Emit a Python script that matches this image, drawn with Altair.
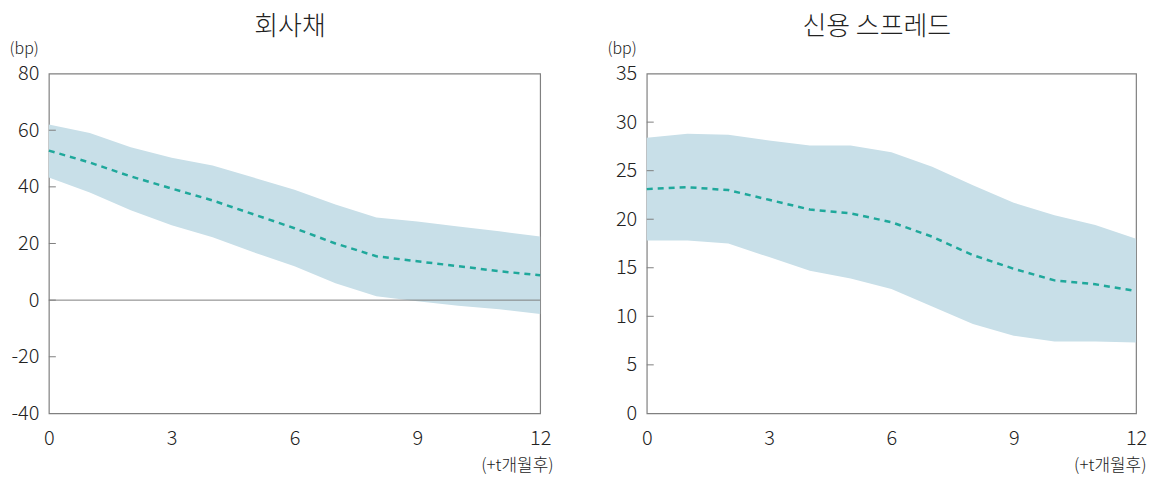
import altair as alt
import pandas as pd

months = list(range(13))

corp_mean = [52.8, 48.6, 43.7, 39.4, 35.2, 30.3, 25.4, 20.0, 15.5, 13.7, 12.0, 10.2, 8.8]
corp_upper = [62.0, 59.0, 54.0, 50.3, 47.5, 43.3, 39.0, 33.8, 29.2, 27.8, 26.0, 24.3, 22.5]
corp_lower = [43.3, 38.0, 31.7, 26.4, 22.2, 16.9, 12.0, 6.0, 1.4, -0.4, -2.0, -3.2, -4.9]

spr_mean = [23.1, 23.3, 23.0, 22.0, 21.0, 20.6, 19.7, 18.2, 16.3, 14.9, 13.7, 13.3, 12.6]
spr_upper = [28.4, 28.8, 28.7, 28.1, 27.6, 27.6, 26.9, 25.4, 23.5, 21.7, 20.4, 19.4, 18.0]
spr_lower = [17.8, 17.8, 17.5, 16.1, 14.7, 13.9, 12.8, 11.0, 9.2, 8.0, 7.4, 7.4, 7.3]

corp_ticks = [-40, -20, 0, 20, 40, 60, 80]
spr_ticks = [0, 5, 10, 15, 20, 25, 30, 35]
x_ticks = [0, 3, 6, 9, 12]

FONT = "Noto Sans CJK KR"
LINE = "#1fa89b"
BAND = "#c8dfe8"
GRID = "#808080"

H = 341


def panel(title, mean, upper, lower, ydom, yticks, zero_line, W, xt_dx, t_dx):
    df = pd.DataFrame({"m": months, "mean": mean, "up": upper, "lo": lower})
    xaxis = alt.Axis(values=x_ticks, title="(+t개월후)", titleAngle=0,
                     titleAlign="right", titleBaseline="bottom",
                     titleX=W + xt_dx, titleY=61,
                     titleFontSize=17, titleFontWeight=300,
                     labelFontSize=20, labelFontWeight=300, labelPadding=15,
                     labelFlush=False,
                     ticks=False, domain=False, grid=False)
    yaxis = alt.Axis(values=yticks, title="(bp)", titleAngle=0,
                     titleAlign="left", titleBaseline="bottom",
                     titleX=-40, titleY=-17,
                     titleFontSize=16, titleFontWeight=300,
                     labelFontSize=20, labelFontWeight=300, labelPadding=10,
                     labelExpr="'' + datum.value",
                     ticks=False, domain=False, grid=False)
    yscale = alt.Scale(domain=ydom, nice=False)
    xs = alt.X("m:Q", scale=alt.Scale(domain=[0, 12], nice=False), axis=xaxis)
    base = alt.Chart(df)
    band = base.mark_area(color=BAND, opacity=1).encode(
        x=xs, y=alt.Y("lo:Q", scale=yscale, axis=yaxis), y2="up:Q")
    line = base.mark_line(color=LINE, strokeWidth=2.5, strokeDash=[6, 5]).encode(
        x=xs, y=alt.Y("mean:Q", scale=yscale, axis=yaxis))
    tdf = pd.DataFrame({"t": yticks[1:-1]})
    ticks = alt.Chart(tdf).mark_rule(color=GRID, strokeWidth=1).encode(
        y=alt.Y("t:Q", scale=yscale, axis=yaxis),
        x=alt.value(0), x2=alt.value(7))
    layers = [band, line, ticks]
    if zero_line:
        zdf = pd.DataFrame({"z": [0]})
        layers.append(alt.Chart(zdf).mark_rule(color=GRID, strokeWidth=1).encode(
            y=alt.Y("z:Q", scale=yscale, axis=yaxis)))
    return alt.layer(*layers).properties(
        width=W, height=H,
        title=alt.TitleParams(title, fontSize=26, font=FONT, fontWeight=300,
                              color="#222", offset=1, frame="bounds",
                              anchor="middle", dx=t_dx))


left = panel("회사채", corp_mean, corp_upper, corp_lower, [-40, 80], corp_ticks, True, 493, 13, 9)
right = panel("신용 스프레드", spr_mean, spr_upper, spr_lower, [0, 35], spr_ticks, False, 491, 10, 0)

chart = alt.hconcat(left, right, spacing=52).properties(
    padding={"left": 0, "top": 4, "right": 0, "bottom": 0}
).configure(
    font=FONT
).configure_axis(
    labelColor="#222", titleColor="#222", labelFont=FONT, titleFont=FONT
).configure_view(
    stroke=GRID, strokeWidth=1.2
)

chart.save("out.html", embed_options={"renderer": "svg", "actions": False})
